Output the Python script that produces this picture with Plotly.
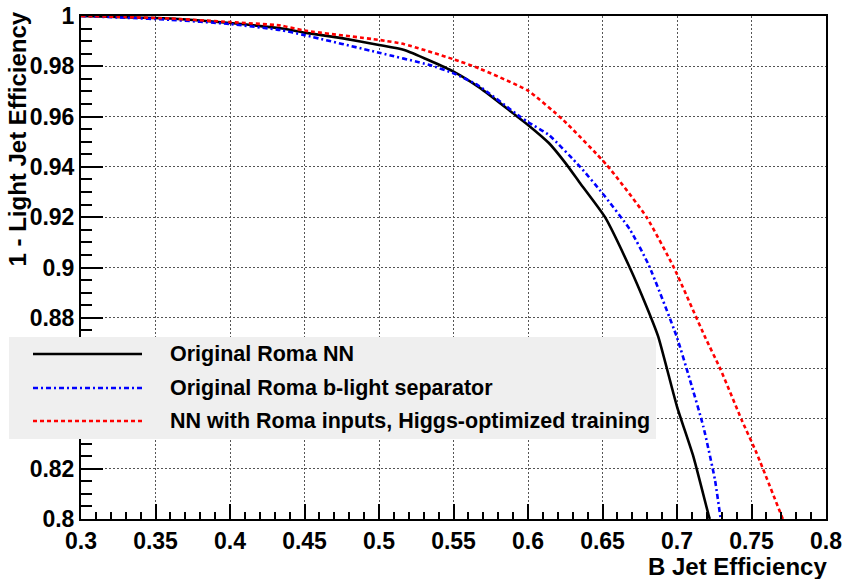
import plotly.graph_objects as go

# ---- data ----
black_x = [0.300, 0.330, 0.360, 0.400, 0.435, 0.450, 0.475, 0.500, 0.517, 0.550, 0.568,
           0.590, 0.600, 0.614, 0.6253, 0.635, 0.6517, 0.6685, 0.6796, 0.6874, 0.700, 0.711, 0.7212, 0.722]
black_y = [1.0000, 0.9995, 0.9990, 0.9972, 0.9950, 0.9934, 0.9912, 0.9885, 0.9865, 0.9779, 0.9713,
           0.9613, 0.9567, 0.9495, 0.9414, 0.9335, 0.9200, 0.8997, 0.8844, 0.8725, 0.8447, 0.8248, 0.8016, 0.800]

blue_x = [0.300, 0.330, 0.360, 0.400, 0.434, 0.450, 0.500, 0.534, 0.550, 0.566, 0.5946,
          0.600, 0.614, 0.635, 0.650, 0.6685, 0.681, 0.6998, 0.7087, 0.7177, 0.7255, 0.7293, 0.7295]
blue_y = [1.0000, 0.9993, 0.9985, 0.9968, 0.9944, 0.9924, 0.9854, 0.9805, 0.9772, 0.9726, 0.9600,
          0.9578, 0.9527, 0.9400, 0.9295, 0.9150, 0.9010, 0.8725, 0.8553, 0.8367, 0.8155, 0.8003, 0.800]

red_x = [0.300, 0.330, 0.360, 0.400, 0.434, 0.450, 0.500, 0.517, 0.550, 0.567, 0.600, 0.6237,
         0.6528, 0.6796, 0.6981, 0.7187, 0.7289, 0.7434, 0.7535, 0.771]
red_y = [1.0000, 0.9996, 0.9990, 0.9976, 0.9962, 0.9942, 0.9905, 0.9888, 0.9828, 0.9792, 0.9703, 0.9586,
         0.9408, 0.9200, 0.8997, 0.8725, 0.8599, 0.8394, 0.8261, 0.800]

series_names = ["Original Roma NN",
                "Original Roma b-light separator",
                "NN with Roma inputs, Higgs-optimized training"]
series_colors = ["#000000", "#0000ff", "#ff0000"]
series_dash = ["solid", "5px,3px,2px,3px", "4px,3px"]

x_title = "B Jet Efficiency"
y_title = "1 - Light Jet Efficiency"

FONT = "Liberation Sans, Arial, Helvetica, sans-serif"

fig = go.Figure()
for xs, ys, name, col, dash in zip([black_x, blue_x, red_x], [black_y, blue_y, red_y],
                                   series_names, series_colors, series_dash):
    fig.add_trace(go.Scatter(x=xs, y=ys, mode="lines", name=name,
                             line=dict(color=col, width=2.6, dash=dash, shape="spline", smoothing=0.5),
                             showlegend=False))

W, H = 846, 579
L, R, T, B = 81, 20, 16, 60
pw, ph = W - L - R, H - T - B

def px2paper_x(px):
    return (px - L) / pw

def px2paper_y(py):
    return (H - B - py) / ph

grid_dash = "2px,2px"
common = dict(showline=True, linecolor="black", linewidth=2, mirror=True,
              ticks="inside", tickwidth=2, tickcolor="black",
              showgrid=True, gridcolor="#555555", gridwidth=1, griddash=grid_dash,
              zeroline=False, automargin=False, tickformat="~g",
              tickfont=dict(family=FONT, size=23, color="black", weight="bold"))
fig.update_xaxes(range=[0.3, 0.8], dtick=0.05, tick0=0.3, ticklen=15,
                 minor=dict(dtick=0.01, ticks="inside", ticklen=7, tickwidth=2,
                            tickcolor="black", showgrid=False), **common)
fig.update_yaxes(range=[0.8, 1.0], dtick=0.02, tick0=0.8, ticklen=22,
                 minor=dict(dtick=0.005, ticks="inside", ticklen=11, tickwidth=2,
                            tickcolor="black", showgrid=False), **common)

shapes = []
annotations = []
# legend box
shapes.append(dict(type="rect", xref="paper", yref="paper", layer="above",
                   x0=px2paper_x(9), x1=px2paper_x(656), y0=px2paper_y(439), y1=px2paper_y(337),
                   fillcolor="#efefef", line=dict(width=0)))
rows = [354, 388, 421]
for name, col, dash, ry in zip(series_names, series_colors, series_dash, rows):
    shapes.append(dict(type="line", xref="paper", yref="paper", layer="above",
                       x0=px2paper_x(33), x1=px2paper_x(142), y0=px2paper_y(ry), y1=px2paper_y(ry),
                       line=dict(color=col, width=2.6, dash=dash)))
    annotations.append(dict(text=name, xref="paper", yref="paper", x=px2paper_x(168),
                            y=px2paper_y(ry), xanchor="left", yanchor="middle", showarrow=False,
                            font=dict(family=FONT, size=21.5, color="black", weight="bold")))

annotations.append(dict(text=x_title, xref="paper", yref="paper", x=px2paper_x(829), y=px2paper_y(566),
                        xanchor="right", yanchor="middle", showarrow=False,
                        font=dict(family=FONT, size=24, color="black", weight="bold")))
annotations.append(dict(text=y_title, xref="paper", yref="paper", x=px2paper_x(17), y=px2paper_y(10),
                        xanchor="center", yanchor="top", showarrow=False, textangle=-90,
                        font=dict(family=FONT, size=24, color="black", weight="bold")))

fig.update_layout(width=W, height=H, margin=dict(l=L, r=R, t=T, b=B, autoexpand=False),
                  paper_bgcolor="white", plot_bgcolor="white",
                  shapes=shapes, annotations=annotations, showlegend=False)

fig.write_html("out.html")
